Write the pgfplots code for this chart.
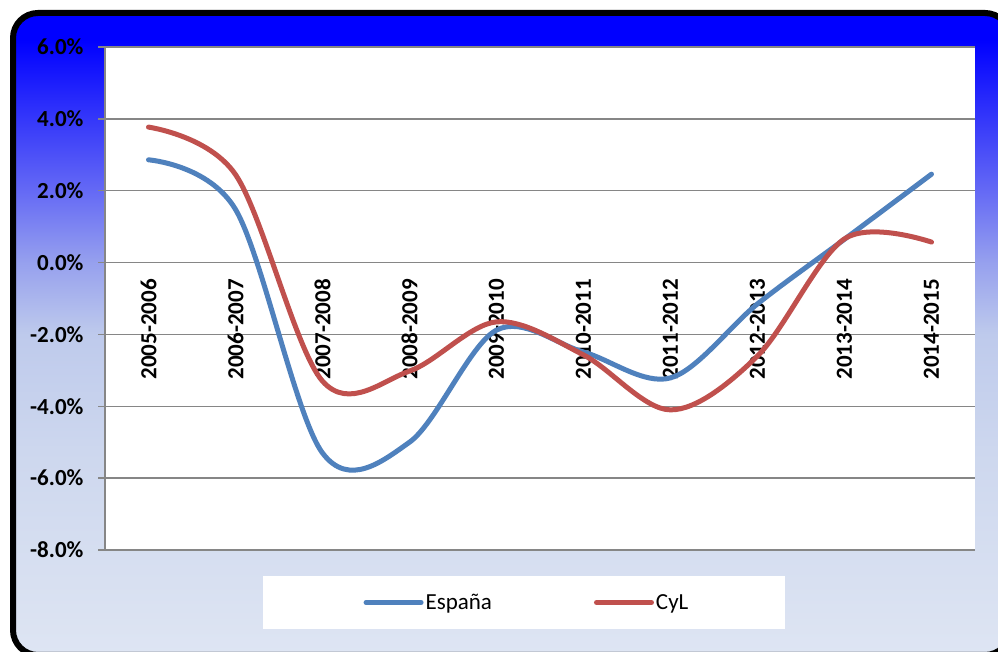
\documentclass[border=0pt]{standalone}
\usepackage{fontspec}
\setmainfont{Carlito}
\usepackage{pgfplots}
\pgfplotsset{compat=1.18}

\definecolor{espana}{HTML}{4F81BD}
\definecolor{cyl}{HTML}{C0504D}
\definecolor{gridgray}{RGB}{134,134,134}
\definecolor{bg0}{RGB}{222,229,243}
\definecolor{bg1}{RGB}{205,215,238}
\definecolor{bg2}{RGB}{190,202,236}
\definecolor{bg3}{RGB}{150,160,238}
\definecolor{bg4}{RGB}{100,105,245}
\definecolor{bgtop}{RGB}{0,0,255}
\pgfdeclareverticalshading{panel}{100bp}{color(0bp)=(bg0); color(25bp)=(bg0);
  color(41bp)=(bg1); color(50bp)=(bg2); color(55.6bp)=(bg3); color(61.2bp)=(bg4);
  color(72.9bp)=(bgtop); color(100bp)=(bgtop)}

\begin{document}
\begin{tikzpicture}
\useasboundingbox (0pt,0pt) rectangle (998pt,652pt);
\begin{scope}
  \clip (0pt,0pt) rectangle (998pt,652pt);
  \path[shading=panel, draw=black, line width=6pt, rounded corners=25pt]
    (13pt,-3pt) rectangle (1010pt,639pt);
\end{scope}
% legend box
\fill[white] (263pt,23pt) rectangle (785pt,76pt);

\begin{axis}[
    at={(105pt,102pt)}, anchor=south west,
    width=870pt, height=503pt, scale only axis,
    axis background/.style={fill=white},
    axis x line=middle, axis y line=left,
    axis line style={-, draw=gridgray, line width=1.3pt},
    xmin=-0.5, xmax=9.5,
    ymin=-8, ymax=6,
    xtick={0,...,9},
    xticklabels={2005-2006,2006-2007,2007-2008,2008-2009,2009-2010,
                 2010-2011,2011-2012,2012-2013,2013-2014,2014-2015},
    xtick style={draw=none},
    minor xtick={-0.5,0.5,...,9.5},
    minor tick length=7pt,
    major tick length=7pt,
    tick align=outside,
    tick style={gridgray, line width=1.3pt},
    ytick={-8,-6,-4,-2,0,2,4,6},
    yticklabels={-8.0\%,-6.0\%,-4.0\%,-2.0\%,0.0\%,2.0\%,4.0\%,6.0\%},
    ymajorgrids=true,
    grid style={gridgray, line width=1.3pt},
    /pgf/number format/assume math mode=true,
    tick label style={font=\bfseries\fontsize{23pt}{23pt}\selectfont},
    xticklabel style={yshift=-6pt, rotate=90, anchor=east},
    yticklabel style={xshift=-11pt},
    legend columns=2,
    legend style={at={(0.485,-0.1044)}, anchor=center, draw=none, fill=none,
      font=\fontsize{23pt}{23pt}\selectfont,
      /tikz/every even column/.append style={column sep=100pt}},
    legend image code/.code={\draw[#1, line cap=round] (0pt,0pt) -- (55pt,0pt);},
    smooth, tension=0.55,
]
\addplot[espana, line width=5pt, line cap=round] coordinates {
  (0,2.86) (1,1.48) (2,-5.3) (3,-5.0) (4,-1.88)
  (5,-2.49) (6,-3.21) (7,-1.15) (8,0.65) (9,2.46)
};
\addplot[cyl, line width=5pt, line cap=round] coordinates {
  (0,3.77) (1,2.45) (2,-3.3) (3,-3.02) (4,-1.65)
  (5,-2.57) (6,-4.1) (7,-2.6) (8,0.66) (9,0.57)
};
\legend{España, CyL}
\end{axis}
\end{tikzpicture}
\end{document}
